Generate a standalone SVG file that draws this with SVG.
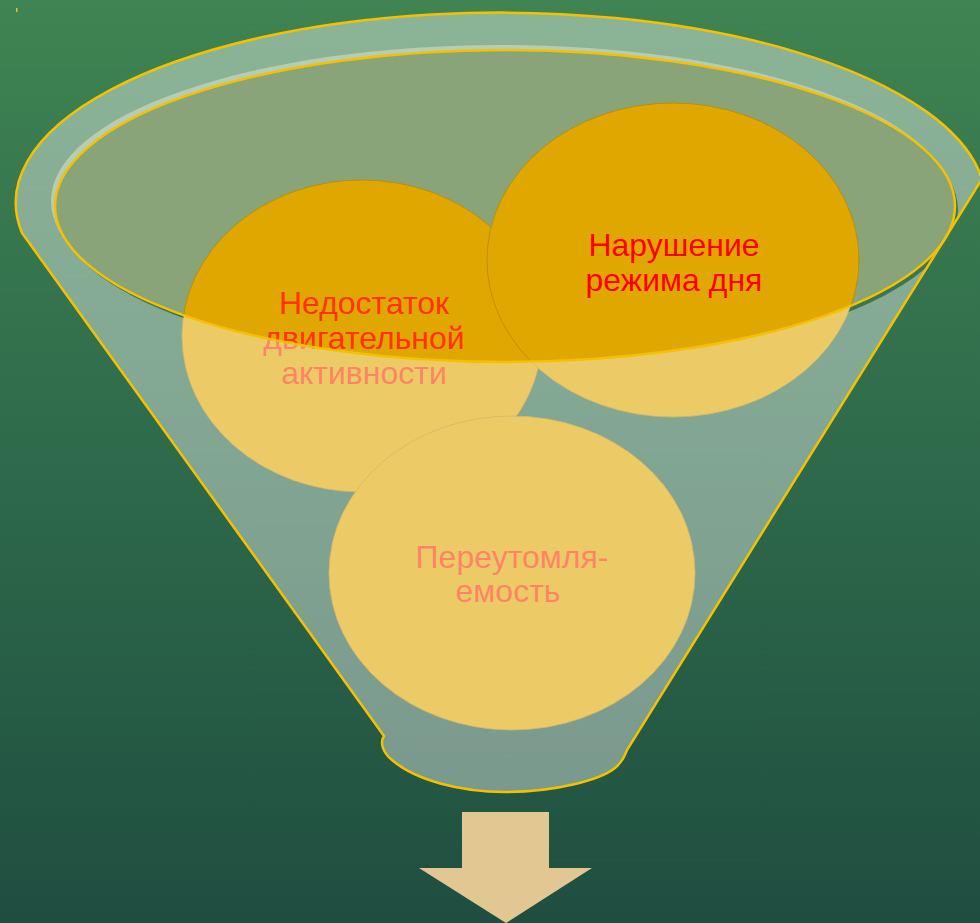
<svg xmlns="http://www.w3.org/2000/svg" width="980" height="923" viewBox="0 0 980 923">
<defs>
  <linearGradient id="bg" x1="0" y1="0" x2="0" y2="1">
    <stop offset="0" stop-color="#3f8452"/>
    <stop offset="0.5" stop-color="#2e6a4b"/>
    <stop offset="1" stop-color="#1f4e40"/>
  </linearGradient>
  <mask id="rimMask" maskUnits="userSpaceOnUse" x="0" y="0" width="980" height="923">
    <rect x="0" y="0" width="980" height="923" fill="#fff"/>
    <ellipse cx="505" cy="206" rx="450" ry="156" fill="#000"/>
    <ellipse cx="362" cy="336" rx="180" ry="156" fill="#000"/>
    <ellipse cx="673" cy="260" rx="186" ry="157" fill="#000"/>
    <ellipse cx="512" cy="573" rx="183" ry="157" fill="#000"/>
  </mask>
  <style>
    .ball { fill: #e0a700; stroke: #b88a00; stroke-width: 0.8; }
    .lbl { font-family: "Liberation Sans", Arial, sans-serif; font-size: 32px; text-anchor: middle; }
    .rim { fill: none; stroke: #f5c000; stroke-width: 2.5; }
  </style>
</defs>
<rect x="0" y="0" width="980" height="923" fill="url(#bg)"/>
<rect x="16" y="8" width="1.5" height="4" fill="#d9c040"/>

<g id="funnel-back">
  <ellipse cx="505" cy="206" rx="450" ry="156" fill="#8aa47a"/>
</g>

<g id="node-nedostatok">
  <ellipse class="ball" cx="362" cy="336" rx="180" ry="156"/>
  <text class="lbl" fill="#ff3300"><tspan x="364" y="314">Недостаток</tspan><tspan x="364" y="349">двигательной</tspan><tspan x="364" y="384">активности</tspan></text>
</g>

<g id="node-narushenie">
  <ellipse class="ball" cx="673" cy="260" rx="186" ry="157"/>
  <text class="lbl" fill="#ff0000"><tspan x="674" y="256">Нарушение</tspan><tspan x="674" y="291">режима дня</tspan></text>
</g>

<g id="node-pereutomlyaemost">
  <ellipse class="ball" cx="512" cy="573" rx="183" ry="157"/>
  <text class="lbl" fill="#ff3300"><tspan x="512" y="568">Переутомля-</tspan><tspan x="508" y="602">емость</tspan></text>
</g>

<g id="funnel-front">
  <path fill="#ffffff" fill-opacity="0.4" fill-rule="evenodd"
    d="M22,233 A485,190 0 1 1 982,179 L627,750 C624,757 622,762 615,768 C600,780 555,792 505,792 C460,792 415,780 392,760 C382,752 380,742 384,736 Z
       M55,206 A450,156 0 1 0 955,206 A450,156 0 1 0 55,206 Z"/>
  <g mask="url(#rimMask)">
    <ellipse cx="501" cy="201" rx="450" ry="156" fill="#b6cdb3"/>
    <ellipse cx="508" cy="210" rx="450" ry="156" fill="#3b7650"/>
  </g>
  <path class="rim" d="M22,233 A485,190 0 1 1 982,179 L627,750 C624,757 622,762 615,768 C600,780 555,792 505,792 C460,792 415,780 392,760 C382,752 380,742 384,736 Z"/>
  <ellipse class="rim" cx="505" cy="206" rx="450" ry="156"/>
</g>

<g id="arrow-down">
  <path d="M462,812 L549,812 L549,868 L592,868 L506,923 L419,868 L462,868 Z" fill="#e3c793"/>
</g>
</svg>
